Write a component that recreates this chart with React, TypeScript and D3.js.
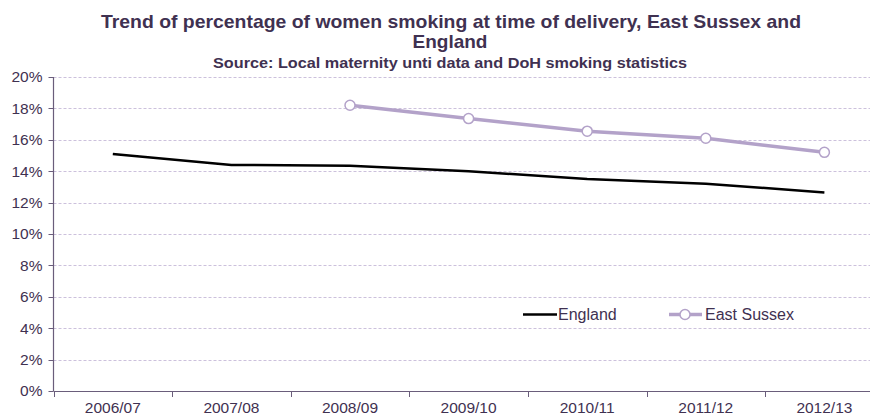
import React from "react";
import * as d3 from "d3";

const categories = ["2006/07", "2007/08", "2008/09", "2009/10", "2010/11", "2011/12", "2012/13"];
const englandValues: (number | null)[] = [15.1, 14.4, 14.35, 14.0, 13.5, 13.2, 12.65];
const eastSussexValues: (number | null)[] = [null, null, 18.2, 17.35, 16.55, 16.1, 15.2];
const yTicks = [0, 2, 4, 6, 8, 10, 12, 14, 16, 18, 20];

const W = 870;
const H = 416;
const left = 53.5;
const top = 77;
const bottom = 391;
const bandW = 118.6;
const textColor = "#3f3151";
const axisColor = "#6a5d7b";
const gridColor = "#ccc1dc";
const esColor = "#b3a2c9";
const font = "'Liberation Sans', Arial, sans-serif";

export default function App() {
  const x = d3
    .scaleBand<string>()
    .domain(categories)
    .range([left, left + bandW * categories.length]);
  const y = d3.scaleLinear().domain([0, 20]).range([bottom, top]);
  const cx = (c: string) => (x(c) as number) + x.bandwidth() / 2;

  const line = d3
    .line<{ c: string; v: number | null }>()
    .defined((d) => d.v !== null)
    .x((d) => cx(d.c))
    .y((d) => y(d.v as number));

  const eng = categories.map((c, i) => ({ c, v: englandValues[i] }));
  const es = categories.map((c, i) => ({ c, v: eastSussexValues[i] }));

  return (
    <svg width={W} height={H} style={{ position: "absolute", left: 0, top: 0, background: "#fff" }}>
      <g fontFamily={font} fill={textColor}>
        <text x={451} y={28} textAnchor="middle" fontWeight="bold" fontSize={19} textLength={700} lengthAdjust="spacingAndGlyphs">
          Trend of percentage of women smoking at time of delivery, East Sussex and
        </text>
        <text x={450} y={48} textAnchor="middle" fontWeight="bold" fontSize={19}>
          England
        </text>
        <text x={450} y={68} textAnchor="middle" fontWeight="bold" fontSize={15} textLength={474} lengthAdjust="spacingAndGlyphs">
          Source: Local maternity unti data and DoH smoking statistics
        </text>
      </g>
      {/* gridlines */}
      {yTicks
        .filter((t) => t > 0)
        .map((t) => (
          <line
            key={t}
            x1={left}
            x2={W}
            y1={Math.round(y(t)) + 0.5}
            y2={Math.round(y(t)) + 0.5}
            stroke={gridColor}
            strokeDasharray="3,2"
            strokeWidth={1}
          />
        ))}
      {/* y axis */}
      <line x1={left} x2={left} y1={top} y2={bottom} stroke={axisColor} strokeWidth={1.2} />
      {yTicks.map((t) => (
        <g key={t}>
          <line x1={left - 5} x2={left} y1={Math.round(y(t)) + 0.5} y2={Math.round(y(t)) + 0.5} stroke={axisColor} />
          <text
            x={left - 11}
            y={y(t)}
            dy="0.35em"
            textAnchor="end"
            fontFamily={font}
            fontSize={15.5}
            fill={textColor}
          >
            {t}%
          </text>
        </g>
      ))}
      {/* x axis */}
      <line x1={left} x2={W} y1={bottom + 0.5} y2={bottom + 0.5} stroke={axisColor} strokeWidth={1.2} />
      {categories.map((c) => (
        <g key={c}>
          <line
            x1={Math.round(x(c) as number) + 0.5}
            x2={Math.round(x(c) as number) + 0.5}
            y1={bottom}
            y2={bottom + 6}
            stroke={axisColor}
          />
          <text x={cx(c)} y={413} textAnchor="middle" fontFamily={font} fontSize={15.5} fill={textColor}>
            {c}
          </text>
        </g>
      ))}
      {/* lines */}
      <path d={line(eng) || ""} fill="none" stroke="#000" strokeWidth={2.5} />
      <path d={line(es) || ""} fill="none" stroke={esColor} strokeWidth={3.5} />
      {es
        .filter((d) => d.v !== null)
        .map((d) => (
          <circle key={d.c} cx={cx(d.c)} cy={y(d.v as number)} r={5} fill="#fff" stroke={esColor} strokeWidth={1.5} />
        ))}
      {/* legend */}
      <line x1={523} x2={557} y1={314.5} y2={314.5} stroke="#000" strokeWidth={2.5} />
      <text x={558} y={314.5} dy="0.36em" fontFamily={font} fontSize={16} fill={textColor}>
        England
      </text>
      <line x1={669} x2={702} y1={314.5} y2={314.5} stroke={esColor} strokeWidth={3.5} />
      <circle cx={685} cy={314.5} r={5} fill="#fff" stroke={esColor} strokeWidth={1.5} />
      <text x={705} y={314.5} dy="0.36em" fontFamily={font} fontSize={16} fill={textColor}>
        East Sussex
      </text>
    </svg>
  );
}
